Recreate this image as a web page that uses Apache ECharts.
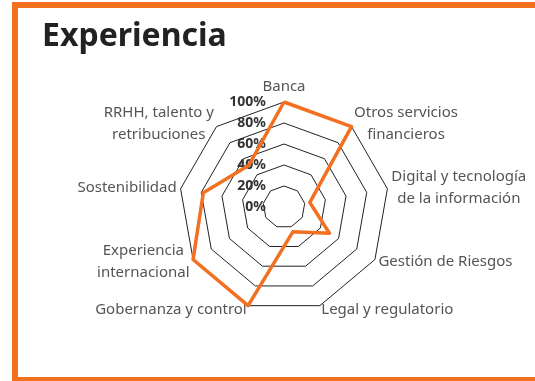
<!DOCTYPE html>
<html>
<head>
<meta charset="utf-8">
<script src="https://cdn.jsdelivr.net/npm/echarts@6/dist/echarts.min.js"></script>
<style>
  html, body { margin: 0; padding: 0; background: #fff; }
  #chart { width: 535px; height: 381px; }
</style>
</head>
<body>
<div id="chart"></div>
<script>
// indicators in ECharts order (counter-clockwise from the top)
var categories = [
  "Banca",
  "RRHH, talento y\nretribuciones",
  "Sostenibilidad",
  "Experiencia\ninternacional",
  "Gobernanza y control",
  "Legal y regulatorio",
  "Gestión de Riesgos",
  "Digital y tecnología\nde la información",
  "Otros servicios\nfinancieros"
];
var values = [100, 52, 78, 100, 100, 25, 50, 25, 100];
var maxValue = 100;

var chart = echarts.init(document.getElementById("chart"));

var indicator = categories.map(function (name, i) {
  var ind = { name: name, max: maxValue, min: 0 };
  // percent labels only on the first (top) axis
  if (i === 0) {
    ind.axisLabel = {
      show: true,
      formatter: "{value}%",
      fontFamily: "Noto Sans",
      fontWeight: "bold",
      fontSize: 14,
      color: "#333",
      margin: 18
    };
  }
  return ind;
});

var option = {
  backgroundColor: "#fff",
  animation: false,
  title: {
    text: "Experiencia",
    left: 37,
    top: 16,
    textStyle: {
      fontFamily: "Noto Sans",
      fontWeight: "bold",
      fontSize: 32,
      color: "#222"
    }
  },
  graphic: [
    {
      type: "rect",
      shape: { x: 15, y: 5, width: 560, height: 375 },
      style: { fill: null, stroke: "#F37021", lineWidth: 6 },
      silent: true
    }
  ],
  radar: {
    center: [284, 207],
    radius: 105,
    splitNumber: 5,
    nameGap: 4,
    indicator: indicator,
    axisName: {
      color: "#555",
      fontFamily: "Noto Sans",
      fontSize: 15,
      formatter: function (name) {
        return name.split("\n").map(function (s) {
          return "{c|" + s + "}";
        }).join("\n");
      },
      rich: {
        c: {
          align: "center",
          fontFamily: "Noto Sans",
          fontSize: 15,
          lineHeight: 22,
          color: "#555"
        }
      }
    },
    axisLine: { show: false },
    axisTick: { show: false },
    splitArea: { show: false },
    splitLine: {
      lineStyle: { color: "#222", width: 1 }
    }
  },
  series: [
    {
      type: "radar",
      symbol: "none",
      lineStyle: { color: "#F37021", width: 3.5 },
      data: [{ value: values, name: "Experiencia" }]
    }
  ]
};

chart.setOption(option);
</script>
</body>
</html>
